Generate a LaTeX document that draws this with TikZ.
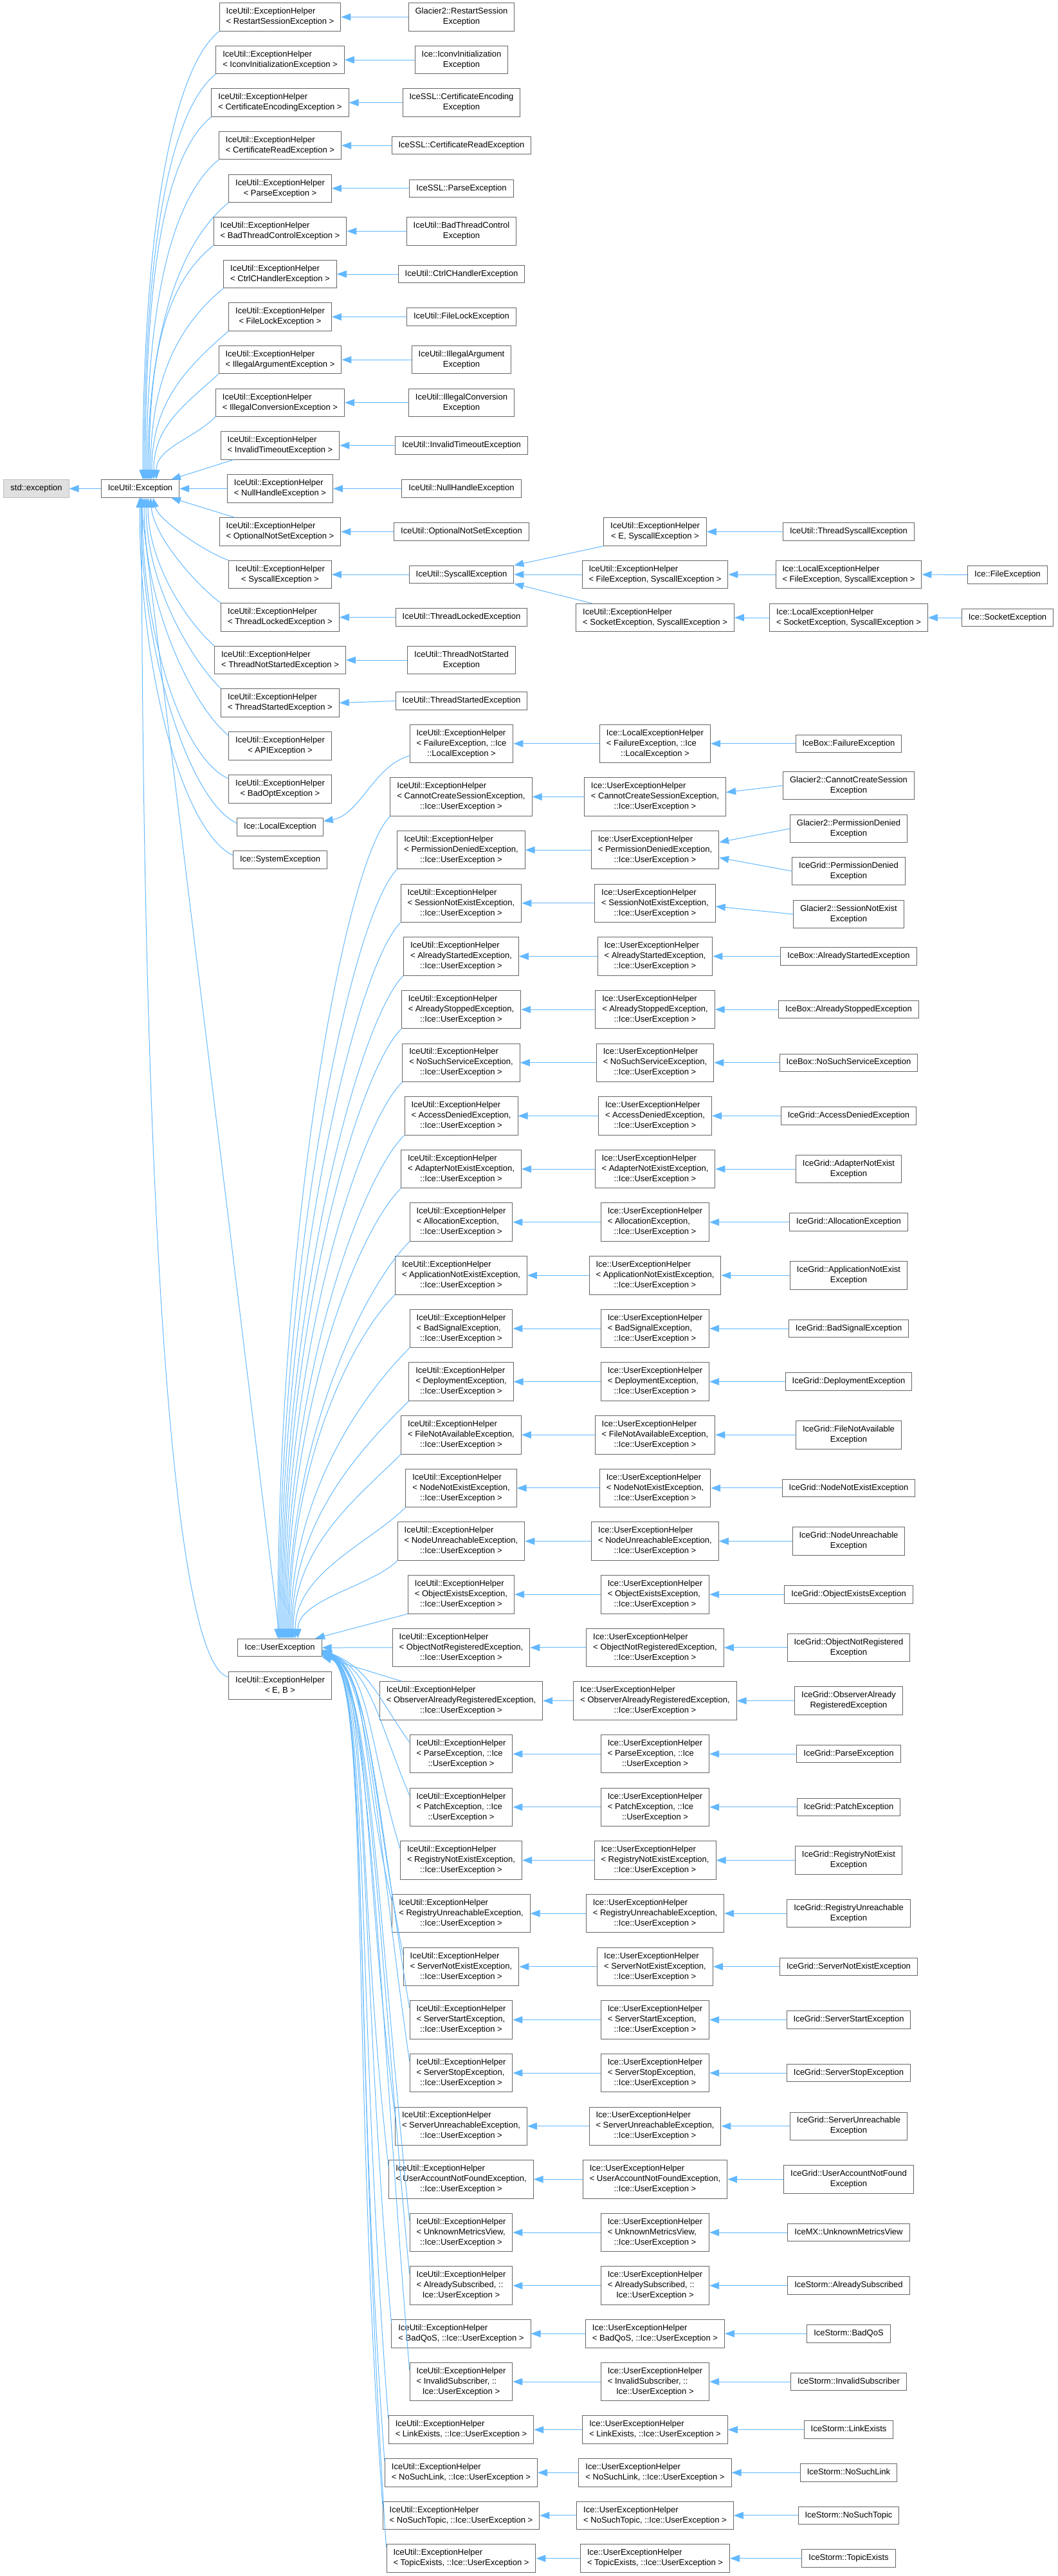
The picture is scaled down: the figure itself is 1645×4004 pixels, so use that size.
\documentclass[tikz,border=0pt]{standalone}
\usepackage{fontspec}
\setmainfont{Liberation Sans}
\usetikzlibrary{arrows.meta,calc}
\definecolor{edgec}{HTML}{63B8FF}
\definecolor{nodec}{HTML}{666666}
\definecolor{extc}{HTML}{BFBFBF}
\definecolor{extf}{HTML}{E0E0E0}
\newcommand\onel[1]{\begin{tabular}{@{}c@{}}#1\end{tabular}}
\newcommand\twol[2]{\begin{tabular}{@{}l@{}}#1\\\multicolumn{1}{@{}c@{}}{#2}\end{tabular}}
\newcommand\threel[3]{\begin{tabular}{@{}l@{}}#1\\#2\\\multicolumn{1}{@{}c@{}}{#3}\end{tabular}}
\tikzset{
  box/.style={draw=nodec, fill=white, line width=1pt, inner xsep=10.5pt, inner ysep=5.75pt,
    font=\fontsize{13}{16}\selectfont},
  extbox/.style={box, draw=extc, fill=extf},
  edge/.style={draw=edgec, line width=1pt, -{Triangle[length=15pt,width=11pt]}},
}
\newcommand\urow[4]{%
  \node[box] (uh#1) at (717,#2) {\threel{IceUtil::ExceptionHelper}{#3}{#4}};
  \node[box] (uu#1) at (1018.5,#2) {\threel{Ice::UserExceptionHelper}{#3}{#4}};}
\newcommand\urowb[3]{%
  \node[box] (uh#1) at (717,#2) {\twol{IceUtil::ExceptionHelper}{#3}};
  \node[box] (uu#1) at (1018.5,#2) {\twol{Ice::UserExceptionHelper}{#3}};}
\newcommand\srow[3]{\urow{#1}{#2}{< #3,}{::Ice::UserException >}}
\newcommand\fin[3]{\node[box] (uf#1) at (1319.5,#2) {#3};}
\newcommand\upx[5]{\draw[edge] (#1.south west) .. controls +(-#3,#4) and +(0,-#5) .. ($(ex.north)+(#2,0)$);}
\newcommand\upu[4]{\draw[edge] (#1.south west) .. controls +(-#3,#3) and +(0,-#4) .. ($(ue.north)+(#2,0)$);}
\newcommand\lou[4]{\draw[edge] ([yshift=-#2pt]#1.north west) .. controls +(-50,-#3) and +(75,30) .. ([yshift=#4pt]ue.south east);}
\begin{document}
\begin{tikzpicture}[x=1pt,y=-1pt]
\useasboundingbox (0,0) rectangle (1645,4004);
% roots
\node[extbox] (stdex) at (56.5,759.5) {\onel{std::exception}};
\node[box] (ex) at (218,759.5) {\onel{IceUtil::Exception}};
% rank 2 helpers
\node[box] (h1) at (435.5,26.4) {\twol{IceUtil::ExceptionHelper}{< RestartSessionException >}};
\node[box] (h2) at (435.5,93) {\twol{IceUtil::ExceptionHelper}{< IconvInitializationException >}};
\node[box] (h3) at (435.5,159.6) {\twol{IceUtil::ExceptionHelper}{< CertificateEncodingException >}};
\node[box] (h4) at (435.5,226.2) {\twol{IceUtil::ExceptionHelper}{< CertificateReadException >}};
\node[box] (h5) at (435.5,292.8) {\twol{IceUtil::ExceptionHelper}{< ParseException >}};
\node[box] (h6) at (435.5,359.4) {\twol{IceUtil::ExceptionHelper}{< BadThreadControlException >}};
\node[box] (h7) at (435.5,426) {\twol{IceUtil::ExceptionHelper}{< CtrlCHandlerException >}};
\node[box] (h8) at (435.5,492.6) {\twol{IceUtil::ExceptionHelper}{< FileLockException >}};
\node[box] (h9) at (435.5,559.2) {\twol{IceUtil::ExceptionHelper}{< IllegalArgumentException >}};
\node[box] (h10) at (435.5,625.8) {\twol{IceUtil::ExceptionHelper}{< IllegalConversionException >}};
\node[box] (h11) at (435.5,692.4) {\twol{IceUtil::ExceptionHelper}{< InvalidTimeoutException >}};
\node[box] (h12) at (435.5,759.5) {\twol{IceUtil::ExceptionHelper}{< NullHandleException >}};
\node[box] (h13) at (435.5,826.5) {\twol{IceUtil::ExceptionHelper}{< OptionalNotSetException >}};
\node[box] (h14) at (435.5,893) {\twol{IceUtil::ExceptionHelper}{< SyscallException >}};
\node[box] (h15) at (435.5,959.5) {\twol{IceUtil::ExceptionHelper}{< ThreadLockedException >}};
\node[box] (h16) at (435.5,1026) {\twol{IceUtil::ExceptionHelper}{< ThreadNotStartedException >}};
\node[box] (h17) at (435.5,1092.5) {\twol{IceUtil::ExceptionHelper}{< ThreadStartedException >}};
\node[box] (h18) at (435.5,1159.5) {\twol{IceUtil::ExceptionHelper}{< APIException >}};
\node[box] (h19) at (435.5,1226.5) {\twol{IceUtil::ExceptionHelper}{< BadOptException >}};
\node[box] (le) at (435.5,1285.5) {\onel{Ice::LocalException}};
\node[box] (se) at (435.5,1336.5) {\onel{Ice::SystemException}};
\node[box] (ue) at (435,2561) {\onel{Ice::UserException}};
\node[box] (eb) at (435.5,2620) {\twol{IceUtil::ExceptionHelper}{< E, B >}};
% rank 3 (top)
\node[box] (r1) at (717.5,26.4) {\twol{Glacier2::RestartSession}{Exception}};
\node[box] (r2) at (717.5,93) {\twol{Ice::IconvInitialization}{Exception}};
\node[box] (r3) at (717.5,159.6) {\twol{IceSSL::CertificateEncoding}{Exception}};
\node[box] (r4) at (717.5,226.2) {\onel{IceSSL::CertificateReadException}};
\node[box] (r5) at (717.5,292.8) {\onel{IceSSL::ParseException}};
\node[box] (r6) at (717.5,359.4) {\twol{IceUtil::BadThreadControl}{Exception}};
\node[box] (r7) at (717.5,426) {\onel{IceUtil::CtrlCHandlerException}};
\node[box] (r8) at (717.5,492.6) {\onel{IceUtil::FileLockException}};
\node[box] (r9) at (717.5,559.2) {\twol{IceUtil::IllegalArgument}{Exception}};
\node[box] (r10) at (717.5,625.8) {\twol{IceUtil::IllegalConversion}{Exception}};
\node[box] (r11) at (717.5,692.4) {\onel{IceUtil::InvalidTimeoutException}};
\node[box] (r12) at (717.5,759.5) {\onel{IceUtil::NullHandleException}};
\node[box] (r13) at (717.5,826.5) {\onel{IceUtil::OptionalNotSetException}};
\node[box] (sys) at (717.5,893) {\onel{IceUtil::SyscallException}};
\node[box] (r15) at (717.5,959.5) {\onel{IceUtil::ThreadLockedException}};
\node[box] (r16) at (717.5,1026) {\twol{IceUtil::ThreadNotStarted}{Exception}};
\node[box] (r17) at (717.5,1089.5) {\onel{IceUtil::ThreadStartedException}};
% syscall subtree
\node[box] (esys) at (1018.5,826.5) {\twol{IceUtil::ExceptionHelper}{< E, SyscallException >}};
\node[box] (fsys) at (1018.5,893) {\twol{IceUtil::ExceptionHelper}{< FileException, SyscallException >}};
\node[box] (ssys) at (1018.5,960) {\twol{IceUtil::ExceptionHelper}{< SocketException, SyscallException >}};
\node[box] (tsys) at (1319.5,826.5) {\onel{IceUtil::ThreadSyscallException}};
\node[box] (lfile) at (1319.5,893) {\twol{Ice::LocalExceptionHelper}{< FileException, SyscallException >}};
\node[box] (lsock) at (1319.5,960) {\twol{Ice::LocalExceptionHelper}{< SocketException, SyscallException >}};
\node[box] (fileex) at (1566.5,893.5) {\onel{Ice::FileException}};
\node[box] (sockex) at (1566.5,960) {\onel{Ice::SocketException}};
% failure chain
\node[box] (fh) at (717.5,1155.8) {\threel{IceUtil::ExceptionHelper}{< FailureException, ::Ice}{::LocalException >}};
\node[box] (lfh) at (1018.5,1155.8) {\threel{Ice::LocalExceptionHelper}{< FailureException, ::Ice}{::LocalException >}};
\node[box] (fbox) at (1319.5,1155.8) {\onel{IceBox::FailureException}};
% user rows
\srow{0}{1238.5}{CannotCreateSessionException}
\srow{1}{1321.15}{PermissionDeniedException}
\srow{2}{1403.8}{SessionNotExistException}
\srow{3}{1486.45}{AlreadyStartedException}
\srow{4}{1569.1}{AlreadyStoppedException}
\srow{5}{1651.75}{NoSuchServiceException}
\srow{6}{1734.4}{AccessDeniedException}
\srow{7}{1817.05}{AdapterNotExistException}
\srow{8}{1899.7}{AllocationException}
\srow{9}{1982.35}{ApplicationNotExistException}
\srow{10}{2065}{BadSignalException}
\srow{11}{2147.65}{DeploymentException}
\srow{12}{2230.3}{FileNotAvailableException}
\srow{13}{2312.95}{NodeNotExistException}
\srow{14}{2395.6}{NodeUnreachableException}
\srow{15}{2478.25}{ObjectExistsException}
\srow{16}{2560.9}{ObjectNotRegisteredException}
\srow{17}{2643.55}{ObserverAlreadyRegisteredException}
\urow{18}{2726.2}{< ParseException, ::Ice}{::UserException >}
\urow{19}{2808.85}{< PatchException, ::Ice}{::UserException >}
\srow{20}{2891.5}{RegistryNotExistException}
\srow{21}{2974.15}{RegistryUnreachableException}
\srow{22}{3056.8}{ServerNotExistException}
\srow{23}{3139.45}{ServerStartException}
\srow{24}{3222.1}{ServerStopException}
\srow{25}{3304.75}{ServerUnreachableException}
\srow{26}{3387.4}{UserAccountNotFoundException}
\srow{27}{3470.05}{UnknownMetricsView}
\urow{28}{3552.7}{< AlreadySubscribed, ::}{Ice::UserException >}
\urowb{29}{3627.3}{< BadQoS, ::Ice::UserException >}
\urow{30}{3702}{< InvalidSubscriber, ::}{Ice::UserException >}
\urowb{31}{3776.6}{< LinkExists, ::Ice::UserException >}
\urowb{32}{3843.3}{< NoSuchLink, ::Ice::UserException >}
\urowb{33}{3909.9}{< NoSuchTopic, ::Ice::UserException >}
\urowb{34}{3976.6}{< TopicExists, ::Ice::UserException >}
% user finals
\fin{0}{1221}{\twol{Glacier2::CannotCreateSession}{Exception}}
\fin{1}{1288}{\twol{Glacier2::PermissionDenied}{Exception}}
\fin{1b}{1354}{\twol{IceGrid::PermissionDenied}{Exception}}
\fin{2}{1421}{\twol{Glacier2::SessionNotExist}{Exception}}
\fin{3}{1486.45}{\onel{IceBox::AlreadyStartedException}}
\fin{4}{1569.1}{\onel{IceBox::AlreadyStoppedException}}
\fin{5}{1651.75}{\onel{IceBox::NoSuchServiceException}}
\fin{6}{1734.4}{\onel{IceGrid::AccessDeniedException}}
\fin{7}{1817.05}{\twol{IceGrid::AdapterNotExist}{Exception}}
\fin{8}{1899.7}{\onel{IceGrid::AllocationException}}
\fin{9}{1982.35}{\twol{IceGrid::ApplicationNotExist}{Exception}}
\fin{10}{2065}{\onel{IceGrid::BadSignalException}}
\fin{11}{2147.65}{\onel{IceGrid::DeploymentException}}
\fin{12}{2230.3}{\twol{IceGrid::FileNotAvailable}{Exception}}
\fin{13}{2312.95}{\onel{IceGrid::NodeNotExistException}}
\fin{14}{2395.6}{\twol{IceGrid::NodeUnreachable}{Exception}}
\fin{15}{2478.25}{\onel{IceGrid::ObjectExistsException}}
\fin{16}{2560.9}{\twol{IceGrid::ObjectNotRegistered}{Exception}}
\fin{17}{2643.55}{\twol{IceGrid::ObserverAlready}{RegisteredException}}
\fin{18}{2726.2}{\onel{IceGrid::ParseException}}
\fin{19}{2808.85}{\onel{IceGrid::PatchException}}
\fin{20}{2891.5}{\twol{IceGrid::RegistryNotExist}{Exception}}
\fin{21}{2974.15}{\twol{IceGrid::RegistryUnreachable}{Exception}}
\fin{22}{3056.8}{\onel{IceGrid::ServerNotExistException}}
\fin{23}{3139.45}{\onel{IceGrid::ServerStartException}}
\fin{24}{3222.1}{\onel{IceGrid::ServerStopException}}
\fin{25}{3304.75}{\twol{IceGrid::ServerUnreachable}{Exception}}
\fin{26}{3387.4}{\twol{IceGrid::UserAccountNotFound}{Exception}}
\fin{27}{3470.05}{\onel{IceMX::UnknownMetricsView}}
\fin{28}{3552.7}{\onel{IceStorm::AlreadySubscribed}}
\fin{29}{3627.3}{\onel{IceStorm::BadQoS}}
\fin{30}{3702}{\onel{IceStorm::InvalidSubscriber}}
\fin{31}{3776.6}{\onel{IceStorm::LinkExists}}
\fin{32}{3843.3}{\onel{IceStorm::NoSuchLink}}
\fin{33}{3909.9}{\onel{IceStorm::NoSuchTopic}}
\fin{34}{3976.6}{\onel{IceStorm::TopicExists}}
% ---------------- edges ----------------
\draw[edge] (ex.west) -- (stdex.east);
\foreach \i in {1,...,13,15,16,17} {\draw[edge] (r\i.west) -- (h\i.east);}
\draw[edge] (sys.west) -- (h14.east);
\draw[edge] (h12.west) -- (ex.east);
% helpers above IceUtil::Exception
\upx{h1}{4}{80}{65}{349}
\upx{h2}{6}{80}{65}{316}
\upx{h3}{8}{80}{65}{282}
\upx{h4}{10}{80}{65}{249}
\upx{h5}{12}{80}{65}{216}
\upx{h6}{14}{80}{65}{182}
\upx{h7}{16}{75}{62}{149}
\upx{h8}{18}{70}{60}{116}
\upx{h9}{21}{55}{50}{82}
\upx{h10}{25}{34}{34}{49}
\draw[edge] ([xshift=20pt]h11.south west) -- ($(ex.north)+(48,0)$);
% helpers below IceUtil::Exception
\draw[edge] ([xshift=24pt]h13.north west) -- ($(ex.south)+(48,0)$);
\draw[edge] (h14.north west) .. controls +(-35,-12) and +(8,35) .. ($(ex.south)+(20,0)$);
\draw[edge] (h15.north west) .. controls +(-40,-30) and +(5,60) .. ($(ex.south)+(16,0)$);
\draw[edge] (h16.north west) .. controls +(-45,-40) and +(0,100) .. ($(ex.south)+(12,0)$);
\draw[edge] (h17.north west) .. controls +(-50,-50) and +(0,130) .. ($(ex.south)+(9,0)$);
\draw[edge] ([yshift=-6pt]h18.north west) .. controls +(-55,-45) and +(0,170) .. ($(ex.south)+(6,0)$);
\draw[edge] ([yshift=-6pt]h19.north west) .. controls +(-70,-31) and +(0,220) .. ($(ex.south)+(3,0)$);
\draw[edge] ([yshift=-8pt]le.north west) .. controls +(-70,-30) and +(0,250) .. ($(ex.south)+(1,0)$);
\draw[edge] ([yshift=-7pt]se.north west) .. controls +(-75,-35) and +(0,280) .. ($(ex.south)+(-1,0)$);
\draw[edge] (ue.north) -- (ex.south);
\draw[edge] ([yshift=-9pt]eb.north west) .. controls +(-80,-17) and +(2,1200) .. ($(ex.south)+(2,0)$);
% syscall subtree
\draw[edge] (esys.south west) -- (sys.north east);
\draw[edge] (fsys.west) -- (sys.east);
\draw[edge] ([xshift=25pt]ssys.north west) -- (sys.south east);
\draw[edge] (tsys.west) -- (esys.east);
\draw[edge] (lfile.west) -- (fsys.east);
\draw[edge] (fileex.west) -- (lfile.east);
\draw[edge] (lsock.west) -- (ssys.east);
\draw[edge] (sockex.west) -- (lsock.east);
% failure chain
\draw[edge] ([yshift=-19pt]fh.west) .. controls +(-55,15) and +(57,-10) .. ([yshift=9pt]le.east);
\draw[edge] (lfh.west) -- (fh.east);
\draw[edge] (fbox.west) -- (lfh.east);
% user rows
\foreach \i in {0,...,34} {\draw[edge] (uu\i.west) -- (uh\i.east);}
\foreach \i in {3,...,34} {\draw[edge] (uf\i.west) -- (uu\i.east);}
\draw[edge] (uf0.west) -- ([yshift=7pt]uu0.east);
\draw[edge] (uf1.west) -- ([yshift=12pt]uu1.east);
\draw[edge] (uf1b.west) -- ([yshift=-12pt]uu1.east);
\draw[edge] (uf2.west) -- ([yshift=-5pt]uu2.east);
% UserException children above
\upu{uh0}{-3}{70}{640}
\upu{uh1}{-1}{70}{598}
\upu{uh2}{1}{70}{557}
\upu{uh3}{3}{70}{515}
\upu{uh4}{5}{70}{474}
\upu{uh5}{7}{70}{433}
\upu{uh6}{9}{70}{392}
\upu{uh7}{11}{70}{350}
\upu{uh8}{13}{70}{309}
\upu{uh9}{15}{70}{268}
\upu{uh10}{17}{70}{226}
\upu{uh11}{19}{70}{185}
\upu{uh12}{21}{65}{144}
\upu{uh13}{24}{55}{102}
\upu{uh14}{28}{40}{61}
\draw[edge] (uh15.south west) -- ($(ue.north)+(55,0)$);
\draw[edge] (uh16.west) -- (ue.east);
% UserException children below
\draw[edge] ([xshift=35pt]uh17.north west) -- (ue.south east);
\lou{uh18}{12}{70}{11}
\lou{uh19}{12}{120}{10}
\lou{uh20}{12}{165}{10}
\lou{uh21}{12}{210}{9}
\lou{uh22}{12}{255}{9}
\lou{uh23}{12}{300}{8}
\lou{uh24}{12}{345}{8}
\lou{uh25}{12}{390}{7}
\lou{uh26}{12}{435}{7}
\lou{uh27}{12}{480}{6}
\lou{uh28}{12}{525}{6}
\lou{uh29}{5}{570}{5}
\lou{uh30}{12}{610}{5}
\lou{uh31}{5}{650}{4}
\lou{uh32}{5}{690}{4}
\lou{uh33}{5}{725}{3}
\lou{uh34}{5}{760}{3}
\end{tikzpicture}
\end{document}
